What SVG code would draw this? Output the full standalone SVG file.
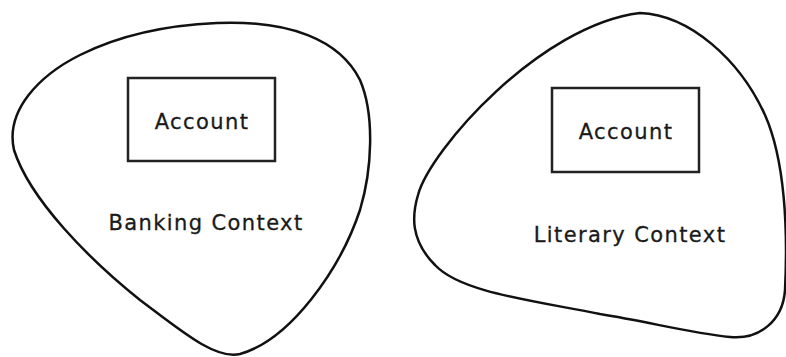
<svg xmlns="http://www.w3.org/2000/svg" width="786" height="357" viewBox="0 0 786 357">
<style>
.blob{fill:none;stroke:#111;stroke-width:2.5}
.box{fill:#fff;stroke:#222;stroke-width:2.5}
.t{font-family:"DejaVu Sans","Liberation Sans",sans-serif;font-size:21px;letter-spacing:1.4px;fill:#1a1a1a;stroke:#1a1a1a;stroke-width:0.3;text-anchor:middle}
</style>
<rect width="786" height="357" fill="#fff"/>
<g id="banking-context">
<path class="blob" d="M 217,23 C 290,20 340,40 360,80 C 375,115 372,170 360,210 C 340,270 290,340 240,354 C 215,360 180,330 140,300 C 90,260 30,200 14,150 C 5,110 40,75 80,55 C 120,35 170,25 217,23 Z"/>
<text class="t" x="206" y="230">Banking Context</text>
</g>
<g id="banking-account">
<rect class="box" x="128" y="78" width="147" height="83"/>
<text class="t" x="202" y="129">Account</text>
</g>
<g id="literary-context">
<path class="blob" d="M 640,13 C 690,15 740,60 765,115 C 785,160 788,230 785,290 C 783,320 760,340 730,337 C 690,333 650,322 600,314 C 530,300 460,292 435,265 C 410,240 412,215 418,195 C 430,150 540,25 640,13 Z"/>
<text class="t" x="630" y="242">Literary Context</text>
</g>
<g id="literary-account">
<rect class="box" x="552" y="88" width="147" height="84"/>
<text class="t" x="626" y="139">Account</text>
</g>
<g id="connectors"/>
</svg>
